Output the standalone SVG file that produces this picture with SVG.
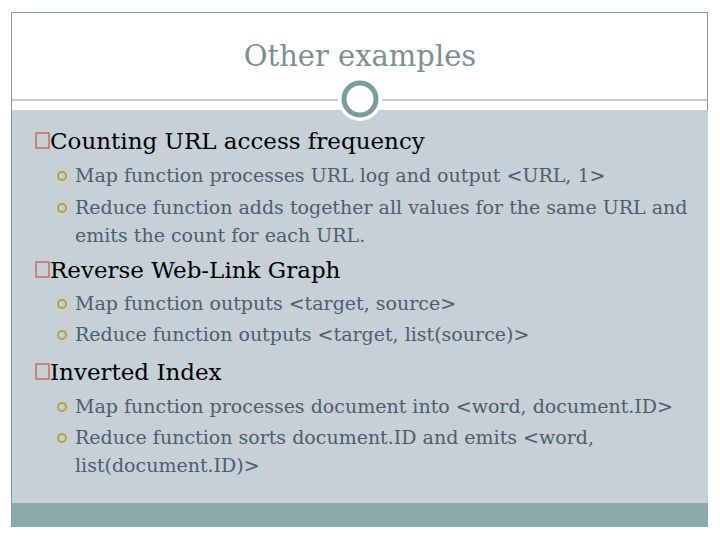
<svg xmlns="http://www.w3.org/2000/svg" width="720" height="540" viewBox="0 0 720 540">
<style>
.h{font-family:'DejaVu Serif',serif;font-size:23px;fill:#000}
.s{font-family:'DejaVu Serif',serif;font-size:19px;fill:#4f5d6e}
.sq{fill:none;stroke:#c0705f;stroke-width:1.5}
.dot{fill:none;stroke:#b3a23a;stroke-width:2}
</style>
<rect x="0" y="0" width="720" height="540" fill="#fff"/>
<rect x="11.5" y="12.5" width="696" height="514" fill="#fff" stroke="#8a9a9e"/>
<rect x="12" y="110" width="696" height="393" fill="#c6d0d6"/>
<rect x="12" y="503" width="696" height="24" fill="#8aabab"/>
<line x1="12" y1="100" x2="708" y2="100" stroke="#8a9a9e"/>
<circle cx="360" cy="99" r="22" fill="#fff"/>
<circle cx="360" cy="99" r="16" fill="#fff" stroke="#7c9c9c" stroke-width="5"/>
<text x="360" y="66" text-anchor="middle" font-family="'DejaVu Serif',serif" font-size="29" fill="#7f8f90">Other examples</text>
<g id="n1">
<rect class="sq" x="36" y="133" width="13" height="15"/>
<text class="h" x="50" y="149">Counting URL access frequency</text>
<circle class="dot" cx="62" cy="176" r="4"/>
<text class="s" x="75" y="182">Map function processes URL log and output &lt;URL, 1&gt;</text>
<circle class="dot" cx="62" cy="208" r="4"/>
<text class="s" x="75" y="214">Reduce function adds together all values for the same URL and</text>
<text class="s" x="75" y="242">emits the count for each URL.</text>
</g>
<g id="n2">
<rect class="sq" x="36" y="262" width="13" height="15"/>
<text class="h" x="50" y="278">Reverse Web-Link Graph</text>
<circle class="dot" cx="62" cy="304" r="4"/>
<text class="s" x="75" y="310">Map function outputs &lt;target, source&gt;</text>
<circle class="dot" cx="62" cy="335" r="4"/>
<text class="s" x="75" y="341">Reduce function outputs &lt;target, list(source)&gt;</text>
</g>
<g id="n3">
<rect class="sq" x="36" y="364" width="13" height="15"/>
<text class="h" x="50" y="380">Inverted Index</text>
<circle class="dot" cx="62" cy="407" r="4"/>
<text class="s" x="75" y="413">Map function processes document into &lt;word, document.ID&gt;</text>
<circle class="dot" cx="62" cy="438" r="4"/>
<text class="s" x="75" y="444">Reduce function sorts document.ID and emits &lt;word,</text>
<text class="s" x="75" y="472">list(document.ID)&gt;</text>
</g>
<g id="connectors"/>
</svg>
